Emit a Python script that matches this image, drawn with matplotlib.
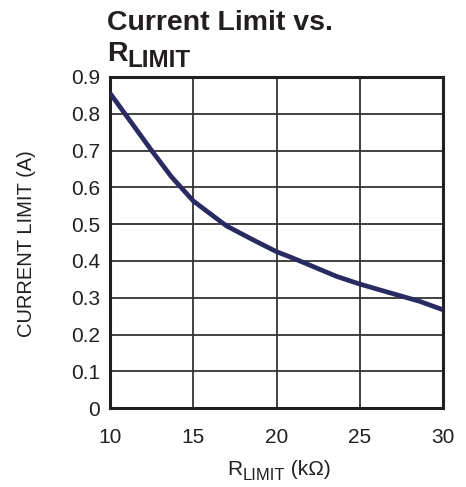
import matplotlib.pyplot as plt

plt.rcParams['font.family'] = ['Liberation Sans', 'DejaVu Sans']

# Current limit vs R_LIMIT
r_limit = [10, 11.7, 12.5, 13.7, 15, 15.7, 17, 18.6, 20, 20.8, 21.6, 23.6, 25, 26.6, 28.6, 30]
current = [0.856, 0.75, 0.70, 0.628, 0.563, 0.539, 0.495, 0.457, 0.425, 0.411, 0.396, 0.358, 0.337, 0.316, 0.29, 0.267]

x_ticks = [10, 15, 20, 25, 30]
y_ticks = [0, 0.1, 0.2, 0.3, 0.4, 0.5, 0.6, 0.7, 0.8, 0.9]
y_labels = ['0', '0.1', '0.2', '0.3', '0.4', '0.5', '0.6', '0.7', '0.8', '0.9']

txt_color = '#231f20'

fig = plt.figure(figsize=(4.66, 4.87), dpi=100)
ax = fig.add_axes([0.236, 0.162, 0.715, 0.68])

ax.plot(r_limit, current, color='#2a2a62', lw=3.4, solid_capstyle='butt',
        solid_joinstyle='round', zorder=3)

ax.set_xlim(10, 30)
ax.set_ylim(0, 0.9)
ax.set_xticks(x_ticks)
ax.set_yticks(y_ticks)
ax.set_yticklabels(y_labels)
ax.tick_params(axis='both', length=0, labelsize=15, colors=txt_color)
ax.tick_params(axis='x', pad=14)
ax.tick_params(axis='y', pad=7)
ax.grid(True, color='#333333', lw=1.3)
for s in ax.spines.values():
    s.set_linewidth(2.2)
    s.set_color(txt_color)

renderer = fig.canvas.get_renderer()
H = 487


def pieces(x, y, parts, **kw):
    # draw text pieces one after another, x/y in pixels from top-left (baseline)
    for s, size, dy in parts:
        t = fig.text(x / 466, (H - y - dy) / H, s, fontsize=size, ha='left', va='baseline',
                     color=txt_color, **kw)
        x += t.get_window_extent(renderer).width


# title
pieces(107, 30, [('Current Limit vs.', 20.5, 0)], fontweight='bold')
pieces(107, 61, [('R', 20.5, 0), ('LIMIT', 17.5, 6)], fontweight='bold')

# x label
pieces(227, 475, [('R', 15, 0), ('LIMIT', 12, 5), (' (k\u03a9)', 15, 0)])

# y label
fig.text(27 / 466, (H - 244) / H, 'CURRENT LIMIT (A)', fontsize=14.5, rotation=90,
         ha='center', va='center', color=txt_color)

fig.savefig('out.png', dpi=100)
